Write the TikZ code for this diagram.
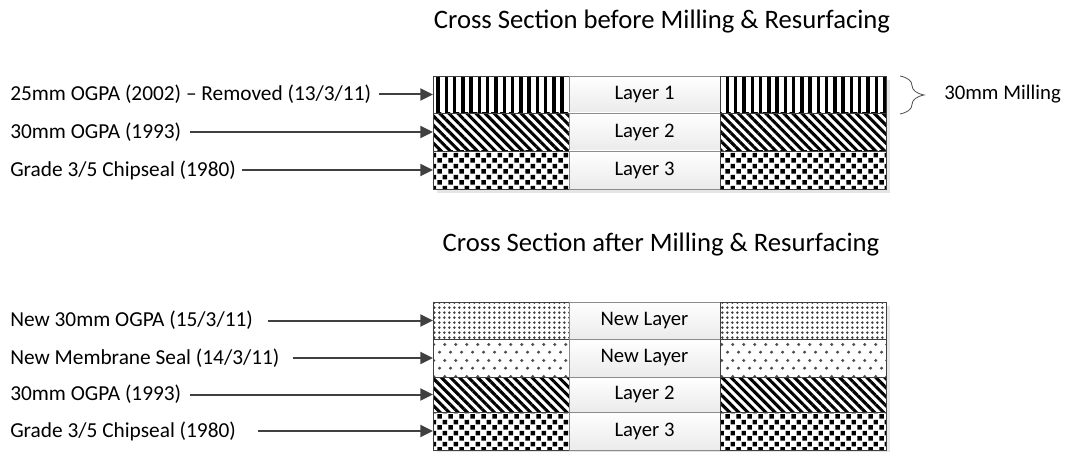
\documentclass[tikz,border=0pt]{standalone}
\usepackage{fontspec}
\setmainfont{Carlito}
\usetikzlibrary{patterns,patterns.meta,arrows.meta,decorations.pathreplacing}

% fill patterns for the pavement layers
\pgfdeclarepatternformonly{checker}{\pgfpointorigin}{\pgfqpoint{8pt}{8pt}}{\pgfqpoint{8pt}{8pt}}{%
  \pgfpathrectangle{\pgfqpoint{0.3pt}{0.3pt}}{\pgfqpoint{3.4pt}{3.4pt}}%
  \pgfpathrectangle{\pgfqpoint{4.3pt}{4.3pt}}{\pgfqpoint{3.4pt}{3.4pt}}%
  \pgfusepath{fill}}
\pgfdeclarepatternformonly{densedots}{\pgfpointorigin}{\pgfqpoint{4pt}{4pt}}{\pgfqpoint{4pt}{4pt}}{%
  \pgfpathcircle{\pgfqpoint{2pt}{2pt}}{1.15pt}%
  \pgfusepath{fill}}
\pgfdeclarepatternformonly{sparsedots}{\pgfpointorigin}{\pgfqpoint{8pt}{12pt}}{\pgfqpoint{8pt}{12pt}}{%
  \pgfpathcircle{\pgfqpoint{2pt}{3pt}}{1.3pt}%
  \pgfpathcircle{\pgfqpoint{6pt}{9pt}}{1.3pt}%
  \pgfusepath{fill}}

\definecolor{arrowgray}{HTML}{404040}
\definecolor{edgegray}{HTML}{8C8C8C}

\tikzset{
  patcell/.style={draw=black!75, line width=0.6pt, preaction={fill=white},
    anchor=north west, inner sep=0pt, outer sep=0pt},
  midcell/.style={draw=edgegray, line width=0.6pt, top color=white, bottom color=black!8,
    anchor=north west, inner sep=0pt, outer sep=0pt, font=\fontsize{15.5}{18}\selectfont},
  vstripes/.style={pattern={Lines[angle=90,distance=6.2pt,line width=2.6pt]}},
  dstripes/.style={pattern={Lines[angle=-45,distance=4.8pt,line width=2.3pt]}},
  checks/.style={pattern=checker},
  fine/.style={pattern=densedots, pattern color=black!75},
  sparse/.style={pattern=sparsedots, pattern color=black!70},
  lbl/.style={anchor=west, inner sep=0pt, font=\fontsize{16}{19}\selectfont},
  ttl/.style={inner sep=0pt, font=\fontsize{20}{24}\selectfont},
  arr/.style={draw=arrowgray, line width=1.5pt, -{Triangle[length=9.5pt,width=9pt]}},
  shadow/.style={fill=black!10}
}

% one layer of the road: patterned left part, labelled middle, patterned right part
\newcommand\layerrow[5]{%
  \node[patcell, #4, minimum height=#3*0.75pt, minimum width=136*0.75pt] (#1L) at (433,#2) {};
  \node[midcell, minimum height=#3*0.75pt, minimum width=151*0.75pt] (#1C) at (569,#2) {#5};
  \node[patcell, #4, minimum height=#3*0.75pt, minimum width=166*0.75pt] (#1R) at (720,#2) {};
}

\begin{document}
\begin{tikzpicture}[x=0.75pt,y=-0.75pt]
\useasboundingbox (0,0) rectangle (1080,452);

% ---- before milling ----
\node[ttl] (title1) at (662,22) {Cross Section before Milling \& Resurfacing};
\fill[shadow] (437,80) rectangle (890,193);
\layerrow{a1}{76}{37}{vstripes}{Layer 1}
\layerrow{a2}{113}{38}{dstripes}{Layer 2}
\layerrow{a3}{151}{38}{checks}{Layer 3}

\node[lbl] (ta1) at (10,94.5) {25mm OGPA (2002) – Removed (13/3/11)};
\node[lbl] (ta2) at (10,132) {30mm OGPA (1993)};
\node[lbl] (ta3) at (10,170) {Grade 3/5 Chipseal (1980)};
\draw[arr, shorten <=8*0.75pt] (ta1.east) -- (a1L.west);
\draw[arr, shorten <=9*0.75pt] (ta2.east) -- (a2L.west);
\draw[arr, shorten <=6*0.75pt] (ta3.east) -- (a3L.west);

\coordinate (bt) at (900,76);
\coordinate (bb) at (900,114);
\draw[black!70, line width=0.6pt, decorate, decoration={brace, amplitude=18pt, aspect=0.5}] (bt) -- (bb);
\node[lbl, font=\fontsize{15.6}{19}\selectfont] (mill) at (944,94.5) {30mm Milling};

% ---- after milling ----
\node[ttl] (title2) at (661,245) {Cross Section after Milling \& Resurfacing};
\fill[shadow] (437,306) rectangle (890,454);
\layerrow{b1}{302}{37}{fine}{New Layer}
\layerrow{b2}{339}{38}{sparse}{New Layer}
\layerrow{b3}{377}{35}{dstripes}{Layer 2}
\layerrow{b4}{412}{38}{checks}{Layer 3}

\node[lbl] (tb1) at (10,320.5) {New 30mm OGPA (15/3/11)};
\node[lbl] (tb2) at (10,358) {New Membrane Seal (14/3/11)};
\node[lbl] (tb3) at (10,394.5) {30mm OGPA (1993)};
\node[lbl] (tb4) at (10,431) {Grade 3/5 Chipseal (1980)};
\draw[arr, shorten <=15*0.75pt] (tb1.east) -- (b1L.west);
\draw[arr, shorten <=13*0.75pt] (tb2.east) -- (b2L.west);
\draw[arr, shorten <=9*0.75pt] (tb3.east) -- (b3L.west);
\draw[arr, shorten <=22*0.75pt] (tb4.east) -- (b4L.west);
\end{tikzpicture}
\end{document}
